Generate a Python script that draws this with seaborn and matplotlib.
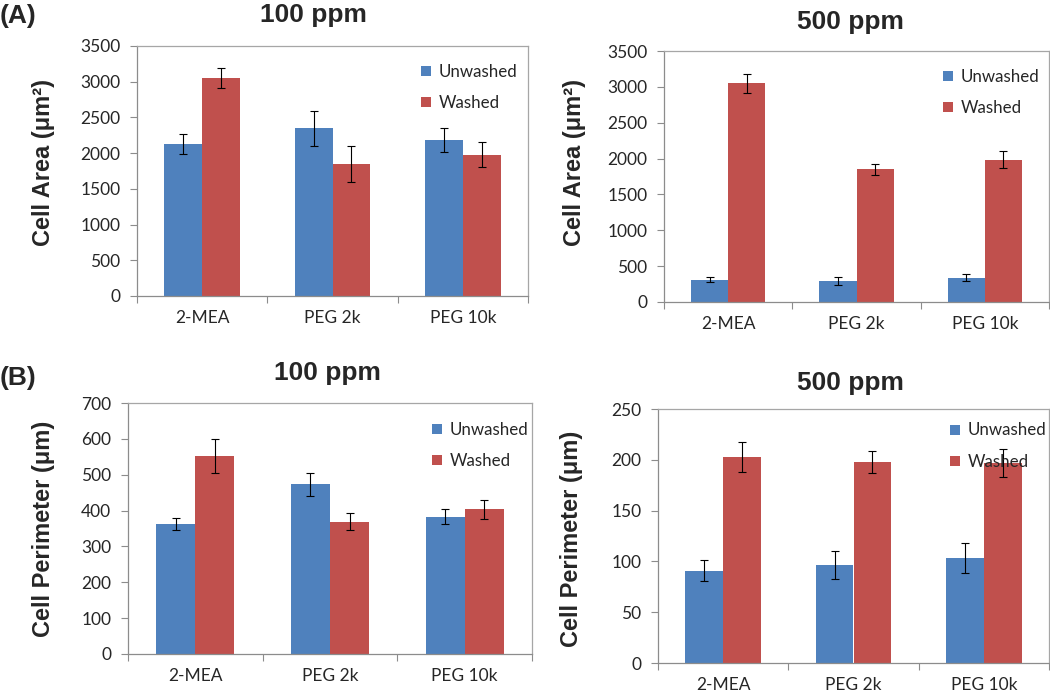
import matplotlib
matplotlib.use('Agg')
import matplotlib.pyplot as plt
from matplotlib.lines import Line2D
import numpy as np
import pandas as pd
import seaborn as sns

# categories and series
categories = ['2-MEA', 'PEG 2k', 'PEG 10k']
conditions = ['Unwashed', 'Washed']

area_100_unwashed = [2130, 2345, 2185]
area_100_unwashed_err = [140, 250, 172]
area_100_washed = [3050, 1845, 1980]
area_100_washed_err = [140, 250, 177]

area_500_unwashed = [312, 293, 340]
area_500_unwashed_err = [40, 62, 53]
area_500_washed = [3050, 1848, 1983]
area_500_washed_err = [133, 77, 116]

perim_100_unwashed = [363, 474, 383]
perim_100_unwashed_err = [17, 32, 20]
perim_100_washed = [552, 369, 403]
perim_100_washed_err = [48, 24, 26]

perim_500_unwashed = [91, 96.5, 103.5]
perim_500_unwashed_err = [10, 13.5, 15]
perim_500_washed = [203, 198, 197]
perim_500_washed_err = [15, 11, 14]

palette = {'Unwashed': '#4F81BD', 'Washed': '#C0504D'}

sns.set_theme(style='white')
plt.rcParams['font.family'] = ['Lato', 'DejaVu Sans']

W, H = 1050, 691
fig = plt.figure(figsize=(W / 100, H / 100), dpi=100)


def px_axes(x0, y0, x1, y1):
    # pixel box -> figure fraction
    return fig.add_axes([x0 / W, (H - y1) / H, (x1 - x0) / W, (y1 - y0) / H])


def draw_panel(ax, unwashed, washed, err_u, err_w, ymax, ystep, ylabel,
               ylab_pos, leg_pos):
    df = pd.DataFrame({
        'Treatment': categories * 2,
        'Condition': ['Unwashed'] * 3 + ['Washed'] * 3,
        'Value': list(unwashed) + list(washed),
    })
    sns.barplot(data=df, x='Treatment', y='Value', hue='Condition',
                hue_order=conditions, palette=palette, width=0.58,
                saturation=1, errorbar=None, legend=False, linewidth=0,
                ax=ax)
    for cont, errs in zip(ax.containers, [err_u, err_w]):
        xs = [b.get_x() + b.get_width() / 2 for b in cont]
        ys = [b.get_height() for b in cont]
        ax.errorbar(xs, ys, yerr=errs, fmt='none', ecolor='black',
                    elinewidth=0.8, capsize=3, capthick=0.8)

    ax.set_xlim(-0.5, 2.5)
    ax.set_ylim(0, ymax)
    ax.set_yticks(np.arange(0, ymax + 1, ystep))
    ax.set_xticks([0, 1, 2])
    ax.set_xticklabels(categories)
    ax.set_xticks([-0.5, 0.5, 1.5, 2.5], minor=True)
    ax.tick_params(axis='x', which='major', length=0, pad=10, labelsize=12.5)
    ax.tick_params(axis='x', which='minor', length=5, width=0.8,
                   color='#8C8C8C', direction='out', bottom=True)
    ax.tick_params(axis='y', length=5, width=0.8, color='#8C8C8C',
                   direction='out', left=True, pad=7, labelsize=12.5)
    ax.set_xlabel('')
    ax.set_ylabel(ylabel, fontsize=17, fontweight='bold',
                  family=['Liberation Sans', 'DejaVu Sans'])
    ax.yaxis.set_label_coords(*ylab_pos)
    for side in ['left', 'bottom']:
        ax.spines[side].set_color('#8C8C8C')
        ax.spines[side].set_linewidth(0.9)
    for side in ['top', 'right']:
        ax.spines[side].set_color('#A6A6A6')
        ax.spines[side].set_linewidth(0.9)

    handles = [Line2D([], [], marker='s', linestyle='none', markersize=7,
                      markerfacecolor=palette[c], markeredgewidth=0)
               for c in conditions]
    ax.legend(handles, conditions, loc='center left', bbox_to_anchor=leg_pos,
              frameon=False, fontsize=12.2, handlelength=0.7,
              handletextpad=0.4, labelspacing=0.9, borderpad=0,
              borderaxespad=0)


ax1 = px_axes(137, 46, 528, 296)
ax2 = px_axes(664, 51, 1049, 302)
ax3 = px_axes(128, 403, 532, 654)
ax4 = px_axes(658, 409, 1049, 663)

draw_panel(ax1, area_100_unwashed, area_100_washed, area_100_unwashed_err,
           area_100_washed_err, 3500, 500, 'Cell Area (\u03bcm\u00b2)',
           (-0.21, 0.535), (0.724, 0.834))
draw_panel(ax2, area_500_unwashed, area_500_washed, area_500_unwashed_err,
           area_500_washed_err, 3500, 500, 'Cell Area (\u03bcm\u00b2)',
           (-0.203, 0.554), (0.723, 0.835))
draw_panel(ax3, perim_100_unwashed, perim_100_washed, perim_100_unwashed_err,
           perim_100_washed_err, 700, 100, 'Cell Perimeter (\u03bcm)',
           (-0.181, 0.5), (0.75, 0.83))
draw_panel(ax4, perim_500_unwashed, perim_500_washed, perim_500_unwashed_err,
           perim_500_washed_err, 250, 50, 'Cell Perimeter (\u03bcm)',
           (-0.193, 0.49), (0.745, 0.854))

title_kw = dict(fontsize=19, fontweight='bold', ha='center', va='center',
                family=['Liberation Sans', 'DejaVu Sans'])
fig.text(313 / W, 1 - 15 / H, '100 ppm', **title_kw)
fig.text(850 / W, 1 - 22 / H, '500 ppm', **title_kw)
fig.text(327 / W, 1 - 373 / H, '100 ppm', **title_kw)
fig.text(850 / W, 1 - 383 / H, '500 ppm', **title_kw)

panel_kw = dict(fontsize=19, fontweight='bold', ha='left', va='center',
                family=['Liberation Sans', 'DejaVu Sans'])
fig.text(0, 1 - 16 / H, '(A)', **panel_kw)
fig.text(0, 1 - 378 / H, '(B)', **panel_kw)

fig.savefig('out.png', dpi=100)
